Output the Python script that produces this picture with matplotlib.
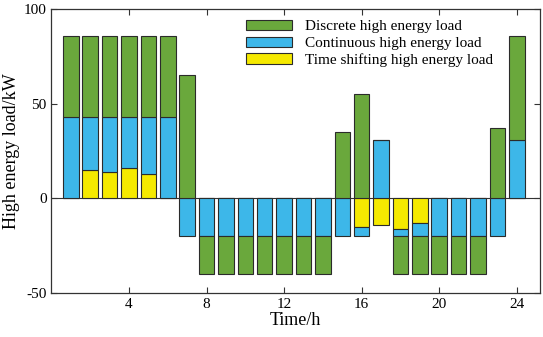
import matplotlib
matplotlib.use("Agg")
import matplotlib.pyplot as plt
import numpy as np

plt.rcParams['font.family'] = ['Liberation Serif', 'DejaVu Serif']
plt.rcParams['axes.unicode_minus'] = False

# datos por hora (kW)
horas = np.arange(1, 25)
desplazable = [0, 15, 14, 16, 13, 0, 0, 0, 0, 0, 0, 0, 0, 0,
               0, -15, -14, -16, -13, 0, 0, 0, 0, 0]
continua = [43, 28, 29, 27, 30, 43, -20, -20, -20, -20, -20, -20, -20, -20,
            -20, -5, 31, -4, -7, -20, -20, -20, -20, 31]
discreta = [43, 43, 43, 43, 43, 43, 65, -20, -20, -20, -20, -20, -20, -20,
            35, 55, 0, -20, -20, -20, -20, -20, 37, 55]

etiquetas = ["Time shifting high energy load",
             "Continuous high energy load",
             "Discrete high energy load"]
colores = ["#f5e900", "#3db7e9", "#6aa83c"]

fig = plt.figure(figsize=(5.43, 3.37), dpi=100)
ax = fig.add_axes([0.0948, 0.1306, 0.8997, 0.8427])

ax.axhline(0, color="#333333", lw=0.8, zorder=0)

pos = np.zeros(24)
neg = np.zeros(24)
barras = []
for serie, col, lab in zip([desplazable, continua, discreta], colores, etiquetas):
    v = np.array(serie, dtype=float)
    base = np.where(v >= 0, pos, neg)
    b = ax.bar(horas, v, width=0.8, bottom=base, color=col,
               edgecolor="#2b2b2b", linewidth=0.8, label=lab, zorder=2)
    barras.append(b)
    pos = pos + np.where(v > 0, v, 0)
    neg = neg + np.where(v < 0, v, 0)

ax.set_xlim(0, 25.2)
ax.set_ylim(-50, 100)
ax.set_xticks([4, 8, 12, 16, 20, 24])
ax.set_yticks([-50, 0, 50, 100])
ax.tick_params(direction="in", top=True, right=True, labelsize=11,
               length=4, width=0.8, color="#333333")
for s in ax.spines.values():
    s.set_color("#333333")
    s.set_linewidth(0.9)

ax.set_xlabel("Time/h", fontsize=13, labelpad=1)
ax.set_ylabel("High energy load/kW", fontsize=13, labelpad=3)

ax.legend([barras[2], barras[1], barras[0]],
          [etiquetas[2], etiquetas[1], etiquetas[0]],
          loc="upper left", bbox_to_anchor=(0.398, 0.962), frameon=False,
          fontsize=11, handlelength=3.0, handleheight=0.7,
          handletextpad=0.85, labelspacing=0.2, borderpad=0, borderaxespad=0)

plt.savefig("out.png", dpi=100)
